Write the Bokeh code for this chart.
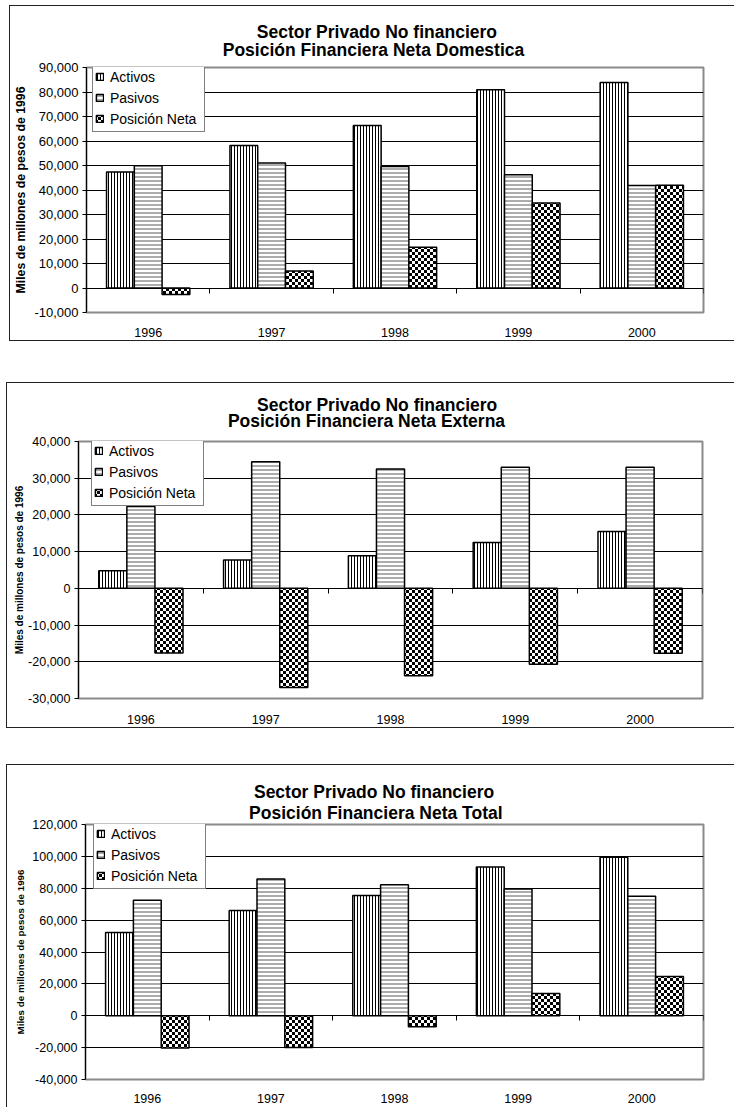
from bokeh.plotting import figure
from bokeh.models import (ColumnDataSource, Range1d, FixedTicker, Title,
                          NumeralTickFormatter, LinearAxis, Legend, LegendItem,
                          CanvasTexture, CustomJSTickFormatter)
from bokeh.transform import dodge
from bokeh.core.properties import value
from bokeh.embed import file_html
from bokeh.resources import INLINE

# ---------------- data ----------------
years = ["1996", "1997", "1998", "1999", "2000"]
series_names = ["Activos", "Pasivos", "Posición Neta"]

title_line1 = "Sector Privado No financiero"
subtitles = ["Posición Financiera Neta Domestica",
             "Posición Financiera Neta Externa",
             "Posición Financiera Neta Total"]
y_label = "Miles de millones de pesos de 1996"

dom_activos = [47300, 58200, 66300, 80900, 83900]
dom_pasivos = [49900, 51000, 49600, 46200, 41800]
dom_neta = [-2700, 6900, 16600, 34700, 41900]

ext_activos = [4800, 7700, 8900, 12500, 15500]
ext_pasivos = [22300, 34500, 32500, 33000, 33000]
ext_neta = [-17600, -27000, -23800, -20700, -17700]

tot_activos = [52200, 66000, 75400, 93400, 99500]
tot_pasivos = [72500, 85800, 82200, 79500, 75000]
tot_neta = [-20200, -19900, -6900, 14000, 24600]

ticks_dom = [-10000, 0, 10000, 20000, 30000, 40000, 50000, 60000, 70000, 80000, 90000]
ticks_ext = [-30000, -20000, -10000, 0, 10000, 20000, 30000, 40000]
ticks_tot = [-40000, -20000, 0, 20000, 40000, 60000, 80000, 100000, 120000]

FONT = "Liberation Sans"
TITLE_FS = 17.5

# Arial/Liberation Sans Bold advance widths (1/1000 em), used to centre the title lines
BOLD_W = {' ': 278, '\u00a0': 278, 'S': 667, 'e': 556, 'c': 556, 't': 333, 'o': 611,
          'r': 389, 'P': 667, 'i': 278, 'v': 556, 'a': 556, 'd': 611, 'N': 722,
          'f': 333, 'n': 611, 'ó': 611, 's': 556, 'F': 611, 'D': 722, 'm': 889,
          'E': 667, 'x': 556, 'T': 611, 'l': 278}


def text_w(s, fs=TITLE_FS):
    return sum(BOLD_W.get(ch, 556) for ch in s) * fs / 1000.0


checker = CanvasTexture(code="""
const c = ctx.canvas;
c.width = 6;
c.height = 6;
ctx.setTransform(1, 0, 0, 1, 0, 0);
ctx.clearRect(0, 0, 6, 6);
ctx.fillStyle = "#000000";
ctx.fillRect(0, 0, 3, 3);
ctx.fillRect(3, 3, 3, 3);
""")

n_cat = len(years)
cat_centers = [i + 0.5 for i in range(n_cat)]
cat_bounds = [i for i in range(1, n_cat + 1)]


def make_chart(activos, pasivos, neta, ticks, subtitle, g):
    src = ColumnDataSource(dict(xc=cat_centers, year=years, activos=activos,
                                pasivos=pasivos, neta=neta))
    p = figure(x_range=Range1d(0, n_cat), y_range=Range1d(ticks[0], ticks[-1]),
               width=g["width"], height=g["height"], output_backend="svg",
               toolbar_location=None, title=None,
               min_border_left=g["bl"], min_border_right=g["br"],
               min_border_top=g["bt"], min_border_bottom=g["bb"],
               margin=g["margin"])
    p.styles = g["styles"]
    p.background_fill_color = "white"
    p.border_fill_color = "white"
    p.outline_line_color = "#8a8a8a"
    p.outline_line_width = 2

    bw = 0.225
    r1 = p.vbar(x=dodge("xc", -bw), top="activos", bottom=0, width=bw,
                source=src, fill_color="white", line_color="black", line_width=1.5,
                hatch_pattern=value("|"), hatch_color="black", hatch_scale=3, hatch_weight=1)
    r2 = p.vbar(x=dodge("xc", 0), top="pasivos", bottom=0, width=bw,
                source=src, fill_color="white", line_color="black", line_width=1.5,
                hatch_pattern=value("-"), hatch_color="#5a5a5a", hatch_scale=4, hatch_weight=1)
    r3 = p.vbar(x=dodge("xc", bw), top="neta", bottom=0, width=bw,
                source=src, fill_color="white", line_color="black", line_width=1.5,
                hatch_pattern=value("checker"), hatch_extra={"checker": checker},
                hatch_color="black", hatch_scale=6, hatch_weight=1)

    # grid
    p.xgrid.grid_line_color = None
    p.ygrid.ticker = FixedTicker(ticks=ticks[1:-1])
    p.ygrid.grid_line_color = "black"
    p.ygrid.grid_line_width = 1

    # y axis
    ya = p.yaxis[0]
    ya.ticker = FixedTicker(ticks=ticks)
    ya.formatter = NumeralTickFormatter(format="0,0")
    ya.major_label_text_font = FONT
    ya.major_label_text_font_size = g["tick_fs"]
    ya.major_label_text_color = "black"
    ya.major_tick_out = 4
    ya.major_tick_in = 0
    ya.major_label_standoff = 4
    ya.minor_tick_line_color = None
    ya.axis_line_color = "black"
    ya.major_tick_line_color = "black"
    ya.axis_label = y_label
    ya.axis_label_text_font = FONT
    ya.axis_label_text_font_style = "bold"
    ya.axis_label_text_font_size = g["ylab_fs"]
    ya.axis_label_text_color = "black"
    ya.axis_label_standoff = g["ylab_standoff"]

    # category labels at the bottom
    xa = p.xaxis[0]
    xa.ticker = FixedTicker(ticks=cat_centers)
    xa.major_label_overrides = {c: y for c, y in zip(cat_centers, years)}
    xa.axis_line_color = None
    xa.major_tick_line_color = None
    xa.minor_tick_line_color = None
    xa.major_label_text_font = FONT
    xa.major_label_text_font_size = g["xlab_fs"]
    xa.major_label_text_color = "black"
    xa.major_label_standoff = g["xlab_standoff"]

    # zero line axis with ticks between categories
    za = LinearAxis(fixed_location=0,
                    ticker=FixedTicker(ticks=cat_bounds),
                    formatter=CustomJSTickFormatter(code="return ''"),
                    major_tick_out=5, major_tick_in=0, minor_tick_line_color=None,
                    major_label_standoff=0, axis_line_color="black",
                    major_tick_line_color="black", axis_line_width=1)
    p.add_layout(za, "below")

    # two-line title: block left-aligned, first line indented to sit centred
    w1, w2 = text_w(title_line1), text_w(subtitle)
    left2 = g["c2"] - w2 / 2.0
    left1 = g["c1"] - w1 / 2.0
    n_sp = max(0, int(round((left1 - left2) / text_w('\u00a0'))))
    txt = '\u00a0' * n_sp + title_line1 + "\n" + subtitle
    p.add_layout(Title(text=txt, align="left", offset=left2 - g["frame_left"],
                       vertical_align="bottom", text_font=FONT, text_font_style="bold",
                       text_font_size=f"{TITLE_FS}px", text_color="black",
                       text_line_height=g["tlh"], standoff=g["tso"]), "above")

    legend = Legend(items=[LegendItem(label=series_names[0], renderers=[r1]),
                           LegendItem(label=series_names[1], renderers=[r2]),
                           LegendItem(label=series_names[2], renderers=[r3])],
                    location=g["leg"], orientation="vertical",
                    border_line_color="black", border_line_width=1,
                    background_fill_color="white", background_fill_alpha=1,
                    label_text_font=FONT, label_text_font_size="14px",
                    label_text_color="black",
                    glyph_width=9, glyph_height=9, label_height=21, label_width=92,
                    label_standoff=6, padding=2, spacing=0, margin=0)
    p.add_layout(legend, "center")
    return p


g1 = dict(width=725, height=336, bl=76, br=32, bt=61, bb=30, margin=(5, 0, 0, 9),
          styles={"border-left": "1px solid #222", "border-top": "1px solid #222",
                  "border-bottom": "1px solid #222"},
          tick_fs="13px", ylab_fs="12.3px", ylab_standoff=3, xlab_fs="12.5px",
          xlab_standoff=9, tlh=0.92, tso=14, leg=(6, 180),
          frame_left=86, c1=377, c2=373)
g2 = dict(width=728, height=346, bl=71, br=33, bt=58, bb=31, margin=(41, 0, 0, 6),
          styles={"border-left": "1px solid #222", "border-top": "1px solid #222",
                  "border-bottom": "1px solid #222"},
          tick_fs="12.5px", ylab_fs="10px", ylab_standoff=0, xlab_fs="12.5px",
          xlab_standoff=10, tlh=0.82, tso=20, leg=(13, 192),
          frame_left=78, c1=376, c2=366)
g3 = dict(width=728, height=343, bl=78, br=32, bt=59, bb=29, margin=(36, 0, 0, 6),
          styles={"border-left": "1px solid #222", "border-top": "1px solid #222"},
          tick_fs="12.5px", ylab_fs="9.8px", ylab_standoff=3, xlab_fs="12.5px",
          xlab_standoff=8, tlh=1.09, tso=2, leg=(8, 190),
          frame_left=85, c1=376, c2=376)

p1 = make_chart(dom_activos, dom_pasivos, dom_neta, ticks_dom, subtitles[0], g1)
p2 = make_chart(ext_activos, ext_pasivos, ext_neta, ticks_ext, subtitles[1], g2)
p3 = make_chart(tot_activos, tot_pasivos, tot_neta, ticks_tot, subtitles[2], g3)

open("out.html", "w").write(file_html([p1, p2, p3], INLINE))
